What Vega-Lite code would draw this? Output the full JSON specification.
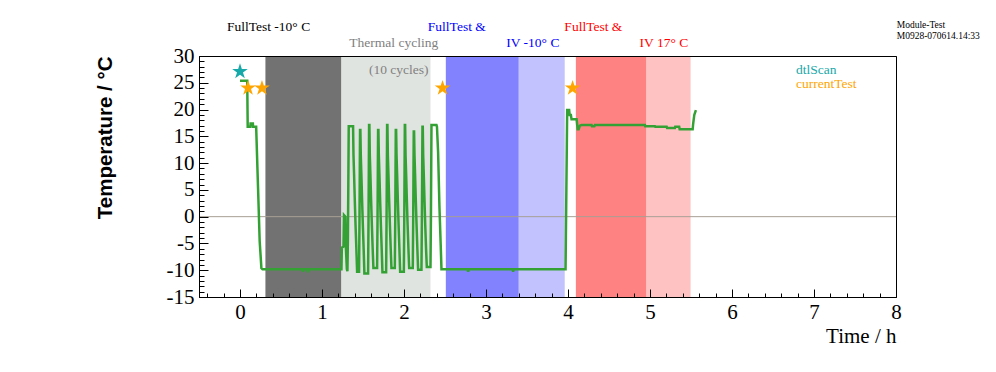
{
  "$schema": "https://vega.github.io/schema/vega-lite/v6.json",
  "width": 697,
  "height": 241,
  "autosize": "none",
  "padding": {"left": 199, "top": 56, "right": 100, "bottom": 75},
  "background": "white",
  "config": {"view": {"stroke": "black", "strokeWidth": 1}, "font": "Liberation Serif"},
  "resolve": {"scale": {"color": "independent"}, "axis": {"x": "independent", "y": "independent"}},
  "datasets": {
    "phases": [
      {"start": 0.310, "end": 1.237, "phase": "FullTest -10"},
      {"start": 1.237, "end": 2.323, "phase": "Thermal cycling"},
      {"start": 2.510, "end": 3.400, "phase": "FullTest IV -10"},
      {"start": 3.400, "end": 3.960, "phase": "IV -10"},
      {"start": 4.096, "end": 4.958, "phase": "FullTest IV 17"},
      {"start": 4.958, "end": 5.495, "phase": "IV 17"}
    ],
    "zero": [{"level": 0}],
    "temp": [
      {"t": 0.000, "temp": 25.4}, {"t": 0.088, "temp": 25.4}, {"t": 0.094, "temp": 16.8}, {"t": 0.127, "temp": 16.8},
      {"t": 0.129, "temp": 17.4}, {"t": 0.157, "temp": 17.4}, {"t": 0.159, "temp": 16.8}, {"t": 0.197, "temp": 16.8},
      {"t": 0.220, "temp": 5.4}, {"t": 0.240, "temp": -4.6}, {"t": 0.261, "temp": -9.6}, {"t": 0.275, "temp": -9.8},
      {"t": 0.763, "temp": -9.8}, {"t": 0.769, "temp": -10.3}, {"t": 0.775, "temp": -9.8}, {"t": 0.824, "temp": -9.8},
      {"t": 0.830, "temp": -10.4}, {"t": 0.836, "temp": -9.8}, {"t": 1.237, "temp": -9.8},
      {"t": 1.242, "temp": -5.8}, {"t": 1.262, "temp": -5.6}, {"t": 1.268, "temp": 0.3}, {"t": 1.285, "temp": 0.0},
      {"t": 1.292, "temp": -6.0}, {"t": 1.303, "temp": -9.8}, {"t": 1.310, "temp": -10.2}, {"t": 1.316, "temp": -4.0},
      {"t": 1.321, "temp": 6.0}, {"t": 1.326, "temp": 16.9}, {"t": 1.379, "temp": 16.9},
      {"t": 1.384, "temp": 11.5}, {"t": 1.391, "temp": 8.0}, {"t": 1.400, "temp": 3.0}, {"t": 1.409, "temp": -1.5},
      {"t": 1.419, "temp": -6.0}, {"t": 1.428, "temp": -10.3}, {"t": 1.452, "temp": -10.3}, {"t": 1.457, "temp": -1.0},
      {"t": 1.461, "temp": 9.0}, {"t": 1.464, "temp": 16.2}, {"t": 1.468, "temp": 16.2},
      {"t": 1.473, "temp": 11.5}, {"t": 1.480, "temp": 8.0}, {"t": 1.489, "temp": 3.0}, {"t": 1.498, "temp": -1.5},
      {"t": 1.508, "temp": -6.0}, {"t": 1.517, "temp": -10.6}, {"t": 1.562, "temp": -10.6}, {"t": 1.567, "temp": -1.0},
      {"t": 1.571, "temp": 9.0}, {"t": 1.574, "temp": 17.1}, {"t": 1.578, "temp": 17.1},
      {"t": 1.583, "temp": 11.5}, {"t": 1.590, "temp": 8.0}, {"t": 1.599, "temp": 3.0}, {"t": 1.608, "temp": -1.5},
      {"t": 1.618, "temp": -6.0}, {"t": 1.627, "temp": -9.6}, {"t": 1.672, "temp": -9.6}, {"t": 1.677, "temp": -1.0},
      {"t": 1.681, "temp": 9.0}, {"t": 1.684, "temp": 16.2}, {"t": 1.688, "temp": 16.2},
      {"t": 1.693, "temp": 11.5}, {"t": 1.700, "temp": 8.0}, {"t": 1.709, "temp": 3.0}, {"t": 1.718, "temp": -1.5},
      {"t": 1.728, "temp": -6.0}, {"t": 1.737, "temp": -10.4}, {"t": 1.782, "temp": -10.4}, {"t": 1.787, "temp": -1.0},
      {"t": 1.791, "temp": 9.0}, {"t": 1.794, "temp": 17.1}, {"t": 1.798, "temp": 17.1},
      {"t": 1.803, "temp": 11.5}, {"t": 1.810, "temp": 8.0}, {"t": 1.819, "temp": 3.0}, {"t": 1.828, "temp": -1.5},
      {"t": 1.838, "temp": -6.0}, {"t": 1.847, "temp": -9.6}, {"t": 1.888, "temp": -9.6}, {"t": 1.893, "temp": -1.0},
      {"t": 1.897, "temp": 9.0}, {"t": 1.900, "temp": 16.2}, {"t": 1.904, "temp": 16.2},
      {"t": 1.909, "temp": 11.5}, {"t": 1.916, "temp": 8.0}, {"t": 1.925, "temp": 3.0}, {"t": 1.934, "temp": -1.5},
      {"t": 1.944, "temp": -6.0}, {"t": 1.953, "temp": -10.3}, {"t": 1.998, "temp": -10.3}, {"t": 2.003, "temp": -1.0},
      {"t": 2.007, "temp": 9.0}, {"t": 2.010, "temp": 17.1}, {"t": 2.014, "temp": 17.1},
      {"t": 2.019, "temp": 11.5}, {"t": 2.026, "temp": 8.0}, {"t": 2.035, "temp": 3.0}, {"t": 2.044, "temp": -1.5},
      {"t": 2.054, "temp": -6.0}, {"t": 2.063, "temp": -9.6}, {"t": 2.107, "temp": -9.6}, {"t": 2.112, "temp": -1.0},
      {"t": 2.116, "temp": 9.0}, {"t": 2.119, "temp": 15.9}, {"t": 2.123, "temp": 15.9},
      {"t": 2.128, "temp": 11.5}, {"t": 2.135, "temp": 8.0}, {"t": 2.144, "temp": 3.0}, {"t": 2.153, "temp": -1.5},
      {"t": 2.163, "temp": -6.0}, {"t": 2.172, "temp": -9.9}, {"t": 2.213, "temp": -9.9}, {"t": 2.218, "temp": -1.0},
      {"t": 2.222, "temp": 9.0}, {"t": 2.225, "temp": 16.8}, {"t": 2.229, "temp": 16.8},
      {"t": 2.234, "temp": 11.5}, {"t": 2.241, "temp": 8.0}, {"t": 2.250, "temp": 3.0}, {"t": 2.259, "temp": -1.5},
      {"t": 2.269, "temp": -6.0}, {"t": 2.278, "temp": -9.4}, {"t": 2.323, "temp": -9.4}, {"t": 2.328, "temp": -1.0},
      {"t": 2.332, "temp": 9.0}, {"t": 2.335, "temp": 17.1}, {"t": 2.396, "temp": 17.1},
      {"t": 2.402, "temp": 16.8}, {"t": 2.416, "temp": 12.0}, {"t": 2.432, "temp": 2.0}, {"t": 2.447, "temp": -5.0},
      {"t": 2.457, "temp": -9.8}, {"t": 2.776, "temp": -9.8}, {"t": 2.782, "temp": -10.3}, {"t": 2.788, "temp": -9.8},
      {"t": 3.325, "temp": -9.8}, {"t": 3.331, "temp": -10.3}, {"t": 3.337, "temp": -9.8}, {"t": 3.970, "temp": -9.8},
      {"t": 3.980, "temp": 5.0}, {"t": 3.990, "temp": 19.9}, {"t": 4.014, "temp": 19.9}, {"t": 4.020, "temp": 19.0},
      {"t": 4.035, "temp": 19.0}, {"t": 4.043, "temp": 18.2}, {"t": 4.105, "temp": 18.2}, {"t": 4.118, "temp": 16.3},
      {"t": 4.130, "temp": 16.3}, {"t": 4.145, "temp": 17.0}, {"t": 4.165, "temp": 17.1}, {"t": 4.288, "temp": 17.1},
      {"t": 4.292, "temp": 16.9}, {"t": 4.322, "temp": 16.9}, {"t": 4.328, "temp": 17.1}, {"t": 4.938, "temp": 17.1},
      {"t": 4.942, "temp": 16.9}, {"t": 5.060, "temp": 16.9}, {"t": 5.064, "temp": 16.8}, {"t": 5.203, "temp": 16.8},
      {"t": 5.208, "temp": 16.56}, {"t": 5.304, "temp": 16.56}, {"t": 5.308, "temp": 16.8}, {"t": 5.356, "temp": 16.8},
      {"t": 5.362, "temp": 16.3}, {"t": 5.520, "temp": 16.3}, {"t": 5.526, "temp": 17.3}, {"t": 5.540, "temp": 19.0},
      {"t": 5.560, "temp": 19.9}
    ],
    "stars": [
      {"t": 0.000, "temp": 27.1, "scan": "dtlScan"},
      {"t": 0.098, "temp": 24.0, "scan": "currentTest"},
      {"t": 0.268, "temp": 24.0, "scan": "currentTest"},
      {"t": 2.470, "temp": 24.0, "scan": "currentTest"},
      {"t": 4.056, "temp": 24.0, "scan": "currentTest"}
    ],
    "annotations": [
      {"t": 0.348, "temp": 35.33, "label": "FullTest -10° C", "group": "black"},
      {"t": 1.875, "temp": 32.43, "label": "Thermal cycling", "group": "gray"},
      {"t": 2.644, "temp": 35.33, "label": "FullTest &", "group": "blue"},
      {"t": 3.571, "temp": 32.43, "label": "IV -10° C", "group": "blue"},
      {"t": 4.309, "temp": 35.33, "label": "FullTest &", "group": "red"},
      {"t": 5.170, "temp": 32.43, "label": "IV 17° C", "group": "red"},
      {"t": 1.936, "temp": 27.4, "label": "(10 cycles)", "group": "gray"}
    ],
    "legend": [
      {"t": 6.780, "temp": 27.4, "label": "dtlScan", "scan": "dtlScan"},
      {"t": 6.780, "temp": 24.7, "label": "currentTest", "scan": "currentTest"}
    ],
    "module": [
      {"t": 8.009, "temp": 35.8, "label": "Module-Test"},
      {"t": 8.009, "temp": 33.7, "label": "M0928-070614.14:33"}
    ]
  },
  "layer": [
    {
      "data": {"name": "phases"},
      "mark": {"type": "rect"},
      "encoding": {
        "x": {"field": "start", "type": "quantitative", "scale": {"domain": [-0.5, 8], "nice": false, "zero": false}, "axis": null},
        "x2": {"field": "end"},
        "color": {"field": "phase", "type": "nominal", "legend": null,
          "scale": {"domain": ["FullTest -10", "Thermal cycling", "FullTest IV -10", "IV -10", "FullTest IV 17", "IV 17"],
                    "range": ["#727272", "#e0e4e0", "#8282ff", "#c2c2ff", "#ff8282", "#ffc2c2"]}}
      }
    },
    {
      "data": {"name": "zero"},
      "mark": {"type": "rule", "color": "#a89f95", "strokeWidth": 1},
      "encoding": {
        "y": {"field": "level", "type": "quantitative", "scale": {"domain": [-15, 30], "nice": false, "zero": false}, "axis": null}
      }
    },
    {
      "data": {"name": "temp"},
      "mark": {"type": "line", "color": "#34a134", "strokeWidth": 2.5, "strokeJoin": "miter", "strokeCap": "butt"},
      "encoding": {
        "x": {"field": "t", "type": "quantitative", "scale": {"domain": [-0.5, 8], "nice": false, "zero": false},
          "axis": {
            "orient": "bottom", "title": "Time / h", "zindex": 1,
            "values": [0, 1, 2, 3, 4, 5, 6, 7, 8],
            "tickSize": -8, "tickColor": "black", "tickWidth": 1,
            "domainColor": "black", "domainWidth": 1, "labelColor": "black", "titleColor": "black",
            "labelFont": "Liberation Serif", "labelFontSize": 21, "labelPadding": 12, "labelFlush": false, "labelOverlap": false,
            "titleFont": "Liberation Serif", "titleFontSize": 21, "titleFontWeight": "normal", "titleAnchor": "end", "titlePadding": 3,
            "grid": false
          }},
        "y": {"field": "temp", "type": "quantitative", "scale": {"domain": [-15, 30], "nice": false, "zero": false},
          "axis": {
            "orient": "left", "title": "Temperature / °C", "zindex": 1,
            "values": [-15, -10, -5, 0, 5, 10, 15, 20, 25, 30],
            "labelExpr": "'' + datum.value",
            "tickSize": -9, "tickColor": "black", "tickWidth": 1,
            "domainColor": "black", "domainWidth": 1, "labelColor": "black", "titleColor": "black",
            "labelFont": "Liberation Serif", "labelFontSize": 21, "labelPadding": 14, "labelOverlap": false, "labelFlush": false,
            "titleFont": "Liberation Sans", "titleFontSize": 20.5, "titleFontWeight": "bold", "titleAnchor": "end", "titlePadding": 51,
            "grid": false
          }}
      }
    },
    {
      "data": {"name": "stars"},
      "mark": {"type": "point", "filled": true, "opacity": 1, "size": 270, "strokeWidth": 0,
        "shape": "M0,-1L0.225,-0.309L0.951,-0.309L0.363,0.118L0.588,0.809L0,0.382L-0.588,0.809L-0.363,0.118L-0.951,-0.309L-0.225,-0.309Z"},
      "encoding": {
        "x": {"field": "t", "type": "quantitative", "scale": {"domain": [-0.5, 8], "nice": false, "zero": false},
          "axis": {
            "orient": "bottom", "title": null, "zindex": 1, "labels": false, "domain": false, "grid": false,
            "values": [-0.4, -0.2, 0.2, 0.4, 0.6, 0.8, 1.2, 1.4, 1.6, 1.8, 2.2, 2.4, 2.6, 2.8, 3.2, 3.4, 3.6, 3.8, 4.2, 4.4, 4.6, 4.8, 5.2, 5.4, 5.6, 5.8, 6.2, 6.4, 6.6, 6.8, 7.2, 7.4, 7.6, 7.8],
            "tickSize": -4, "tickColor": "black", "tickWidth": 1
          }},
        "y": {"field": "temp", "type": "quantitative", "scale": {"domain": [-15, 30], "nice": false, "zero": false},
          "axis": {
            "orient": "left", "title": null, "zindex": 1, "labels": false, "domain": false, "grid": false,
            "values": [-14, -13, -12, -11, -9, -8, -7, -6, -4, -3, -2, -1, 1, 2, 3, 4, 6, 7, 8, 9, 11, 12, 13, 14, 16, 17, 18, 19, 21, 22, 23, 24, 26, 27, 28, 29],
            "tickSize": -5, "tickColor": "black", "tickWidth": 1
          }},
        "color": {"field": "scan", "type": "nominal", "legend": null, "scale": {"domain": ["dtlScan", "currentTest"], "range": ["#17a8aa", "#ffa500"]}}
      }
    },
    {
      "data": {"name": "annotations"},
      "mark": {"type": "text", "font": "Liberation Serif", "fontSize": 13.5, "align": "center", "baseline": "middle"},
      "encoding": {
        "x": {"field": "t", "type": "quantitative", "scale": {"domain": [-0.5, 8], "nice": false, "zero": false},
          "axis": {"orient": "top", "title": null, "zindex": 1, "labels": false, "ticks": false, "grid": false, "domainColor": "black", "domainWidth": 1}},
        "y": {"field": "temp", "type": "quantitative", "scale": {"domain": [-15, 30], "nice": false, "zero": false}, "axis": null},
        "text": {"field": "label"},
        "color": {"field": "group", "type": "nominal", "legend": null, "scale": {"domain": ["black", "gray", "blue", "red"], "range": ["#000000", "#808080", "#0000ff", "#ff0000"]}}
      }
    },
    {
      "data": {"name": "legend"},
      "mark": {"type": "text", "font": "Liberation Serif", "fontSize": 13.5, "align": "left", "baseline": "middle"},
      "encoding": {
        "x": {"field": "t", "type": "quantitative", "scale": {"domain": [-0.5, 8], "nice": false, "zero": false}, "axis": null},
        "y": {"field": "temp", "type": "quantitative", "scale": {"domain": [-15, 30], "nice": false, "zero": false}, "axis": null},
        "text": {"field": "label"},
        "color": {"field": "scan", "type": "nominal", "legend": null, "scale": {"domain": ["dtlScan", "currentTest"], "range": ["#17a8aa", "#ffa500"]}}
      }
    },
    {
      "data": {"name": "module"},
      "mark": {"type": "text", "font": "Liberation Serif", "fontSize": 9.5, "align": "left", "baseline": "middle", "color": "black"},
      "encoding": {
        "x": {"field": "t", "type": "quantitative", "scale": {"domain": [-0.5, 8], "nice": false, "zero": false}, "axis": null},
        "y": {"field": "temp", "type": "quantitative", "scale": {"domain": [-15, 30], "nice": false, "zero": false}, "axis": null},
        "text": {"field": "label"}
      }
    }
  ]
}
